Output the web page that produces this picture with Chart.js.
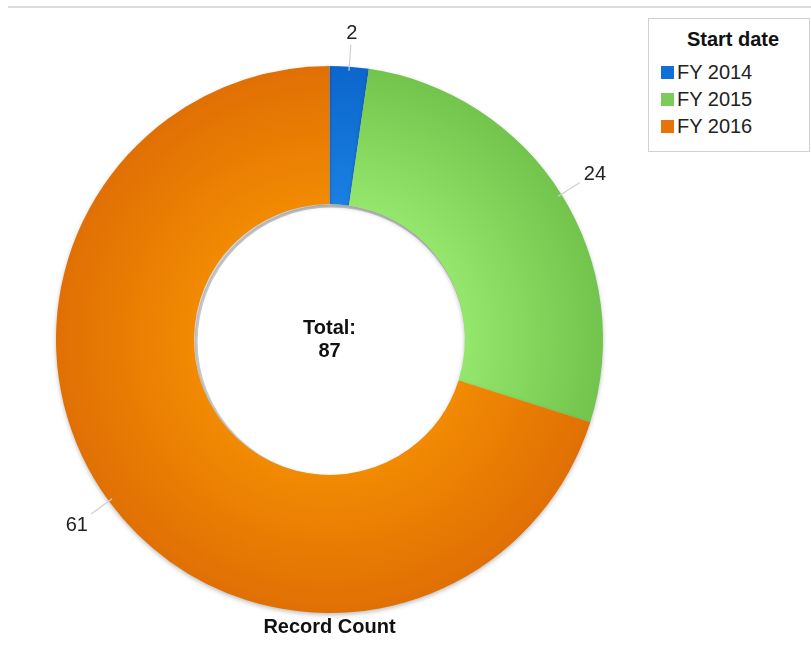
<!DOCTYPE html>
<html>
<head>
<meta charset="utf-8">
<script src="https://cdn.jsdelivr.net/npm/chart.js@4"></script>
<style>
  html,body{margin:0;padding:0;background:#fff;}
  body{width:811px;height:654px;position:relative;overflow:hidden;font-family:"Liberation Sans",Arial,sans-serif;}
  #wrap{position:absolute;left:0;top:0;width:811px;height:654px;}
  #topline{position:absolute;left:8px;right:0;top:6px;height:2px;background:#dcdcdc;}
  #legend{position:absolute;left:648px;top:18px;width:162px;height:134px;border:1px solid #d0d0d0;box-sizing:border-box;background:#fff;color:#222;}
  #legend .title{position:absolute;left:0;width:100%;top:9px;text-align:center;font-weight:bold;font-size:20px;padding-left:8px;box-sizing:border-box;color:#111;}
  #legend .item{position:absolute;left:12px;font-size:20px;height:22px;line-height:22px;}
  #legend .sw{display:inline-block;width:13px;height:13px;margin-right:3px;vertical-align:0px;}
</style>
</head>
<body>
<div id="topline"></div>
<div id="wrap"><canvas id="c" width="811" height="654"></canvas></div>
<div id="legend"></div>
<script>
const legendTitle = "Start date";
const categories = ["FY 2014", "FY 2015", "FY 2016"];
const recordCount = [2, 24, 61];
const axisTitle = "Record Count";
const centerLabel = "Total:";
const swatchColors = ["#1170d8", "#7ccc5c", "#e5740a"];
// gradient stops per slice: inner edge, outer edge
const gradStops = [
  ["#1a80e2", "#0c66cc"],
  ["#94e66c", "#72c44c"],
  ["#f28a02", "#e07004"]
];

// HTML legend
const lg = document.getElementById('legend');
const t = document.createElement('div'); t.className='title'; t.textContent=legendTitle; lg.appendChild(t);
categories.forEach((c,i)=>{
  const d=document.createElement('div'); d.className='item'; d.style.top=(42+i*27)+'px';
  d.innerHTML='<span class="sw" style="background:'+swatchColors[i]+'"></span>'+c;
  lg.appendChild(d);
});

const total = recordCount.reduce((a,b)=>a+b,0);

function sliceFill(ctx){
  const chart = ctx.chart;
  const i = ctx.dataIndex;
  const meta = chart.getDatasetMeta(0);
  const el = meta && meta.data[i];
  if(!el || !el.outerRadius) return swatchColors[i];
  const g = chart.ctx.createRadialGradient(el.x, el.y, el.innerRadius, el.x, el.y, el.outerRadius);
  const s = gradStops[i];
  g.addColorStop(0, s[0]); g.addColorStop(1, s[1]);
  return g;
}

const shadowPlugin = {
  id:'shadow',
  beforeDatasetsDraw(chart){
    const c=chart.ctx;
    const el=chart.getDatasetMeta(0).data[0];
    if(el && el.innerRadius){
      c.save();
      c.strokeStyle='#cccccc'; c.lineWidth=3;
      c.beginPath(); c.arc(el.x+2, el.y+2, el.innerRadius, 0, Math.PI*2); c.stroke();
      c.restore();
    }
    c.save();
    c.shadowColor='rgba(0,0,0,0.25)'; c.shadowBlur=4; c.shadowOffsetX=0; c.shadowOffsetY=2;
  },
  afterDatasetsDraw(chart){ chart.ctx.restore(); }
};

const labelPlugin = {
  id:'labels',
  afterDraw(chart){
    const c=chart.ctx;
    const meta=chart.getDatasetMeta(0);
    c.save();
    c.font='20px "Liberation Sans", Arial, sans-serif';
    meta.data.forEach((el,i)=>{
      const mid=(el.startAngle+el.endAngle)/2;
      const cos=Math.cos(mid), sin=Math.sin(mid);
      const r=el.outerRadius;
      c.strokeStyle='#cfcfcf'; c.lineWidth=1.2;
      c.beginPath();
      c.moveTo(el.x+cos*(r-4), el.y+sin*(r-4));
      c.lineTo(el.x+cos*(r+22), el.y+sin*(r+22));
      c.stroke();
      c.fillStyle='#222';
      const txt=String(recordCount[i]);
      const w=c.measureText(txt).width;
      const lr=r+26+Math.abs(cos)*w/2+Math.abs(sin)*8;
      const x=el.x+cos*lr, y=el.y+sin*lr;
      c.textAlign='center'; c.textBaseline='middle';
      c.fillText(txt, x, y+1);
    });
    const cx=meta.data[0].x, cy=meta.data[0].y;
    c.font='bold 20px "Liberation Sans", Arial, sans-serif';
    c.textAlign='center'; c.textBaseline='middle';
    c.fillStyle='#111';
    c.fillText(centerLabel, cx, cy-11);
    c.fillText(String(total), cx, cy+12);
    c.fillText(axisTitle, cx, 627);
    c.restore();
  }
};

const chart = new Chart(document.getElementById('c'), {
  type:'doughnut',
  data:{ labels:categories, datasets:[{ data:recordCount, backgroundColor:sliceFill, borderWidth:0, hoverOffset:0 }]},
  options:{
    responsive:false, animation:false, cutout:'49.5%',
    layout:{ padding:{ left:56, right:208, top:66, bottom:41 } },
    plugins:{ legend:{display:false}, tooltip:{enabled:false} },
    events:[]
  },
  plugins:[shadowPlugin, labelPlugin]
});
chart.update('none');
</script>
</body>
</html>
